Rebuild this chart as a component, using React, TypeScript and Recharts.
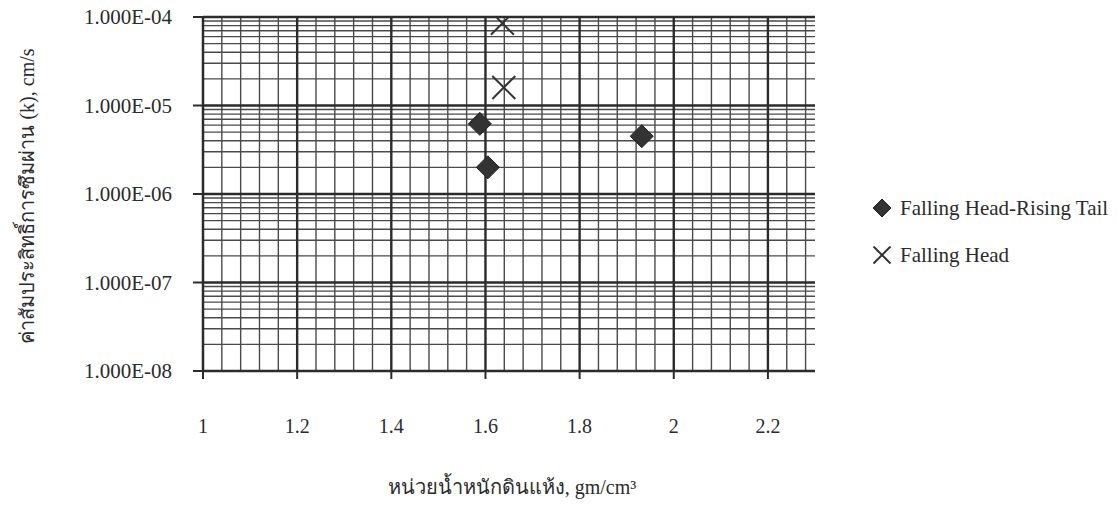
import { Legend, ReferenceLine, Scatter, ScatterChart, XAxis, YAxis } from "recharts";

// Falling Head-Rising Tail
const fhrtDensity = [1.588, 1.605, 1.932];
const fhrtK = [6.2e-6, 2.0e-6, 4.5e-6];
// Falling Head
const fhDensity = [1.636, 1.639];
const fhK = [8.5e-5, 1.6e-5];

const xTicks = [1, 1.2, 1.4, 1.6, 1.8, 2, 2.2];
const yTicks = [1e-8, 1e-7, 1e-6, 1e-5, 1e-4];

const seriesNames = ["Falling Head-Rising Tail", "Falling Head"];
const xTitle = "หน่วยน้ำหนักดินแห้ง, gm/cm³";
const yTitle = "ค่าสัมประสิทธิ์การซึมผ่าน (k), cm/s";

const FONT = "'Liberation Serif', 'Times New Roman', serif";
const INK = "#2b2b2b";
const GRID = "#4a4a4a";

const fhrtData = fhrtDensity.map((x, i) => ({ x, y: fhrtK[i] }));
const fhData = fhDensity.map((x, i) => ({ x, y: fhK[i] }));

// grid values: minor x every 0.04, log minors 2..9 per decade
const xMinor: number[] = [];
for (let i = 1; i < 33; i++) {
  const v = Math.round((1 + i * 0.04) * 100) / 100;
  if (Math.round(v * 100) % 20 !== 0) xMinor.push(v);
}
const xMajor = xTicks.slice(1);
const yMinor: number[] = [];
for (let e = -8; e < -4; e++) {
  for (let m = 2; m <= 9; m++) yMinor.push(m * Math.pow(10, e));
}
const yMajor = yTicks.slice(1);

const fmtK = (v: number) => {
  const e = Math.round(Math.log10(v));
  const m = v / Math.pow(10, e);
  return `${m.toFixed(3)}E${e < 0 ? "-" : "+"}${String(Math.abs(e)).padStart(2, "0")}`;
};

const Diamond = ({ cx, cy, r = 11.5 }: any) => (
  <polygon
    points={`${cx},${cy - r} ${cx + r},${cy} ${cx},${cy + r} ${cx - r},${cy}`}
    fill="#333"
    stroke="#222"
    strokeWidth={1}
  />
);

const Cross = ({ cx, cy, r = 11.5 }: any) => (
  <g stroke="#333" strokeWidth={2}>
    <line x1={cx - r} y1={cy - r} x2={cx + r} y2={cy + r} />
    <line x1={cx - r} y1={cy + r} x2={cx + r} y2={cy - r} />
  </g>
);

const renderLegend = () => (
  <div style={{ fontFamily: FONT, fontSize: 21, color: INK }}>
    {seriesNames.map((name, i) => (
      <div key={name} style={{ display: "flex", alignItems: "center", height: 24, marginBottom: 23 }}>
        <svg width={22} height={22} style={{ marginRight: 7 }}>
          {i === 0 ? <Diamond cx={11} cy={11} r={9} /> : <Cross cx={11} cy={11} r={8.5} />}
        </svg>
        <span>{name}</span>
      </div>
    ))}
  </div>
);

export default function App() {
  return (
    <div style={{ position: "absolute", left: 0, top: 0, width: 1118, height: 507, background: "#fff" }}>
      <ScatterChart width={1118} height={507} margin={{ top: 17, right: 303, bottom: 0, left: 0 }}>
        <XAxis
          type="number"
          dataKey="x"
          domain={[1, 2.3]}
          ticks={xTicks}
          allowDataOverflow
          height={136}
          tickSize={8}
          tickMargin={40}
          axisLine={{ stroke: INK, strokeWidth: 2.5 }}
          tickLine={{ stroke: INK, strokeWidth: 2 }}
          tick={{ fontSize: 20, fill: INK, fontFamily: FONT }}
          label={() => (
            <text x={512} y={494} textAnchor="middle" fontSize={20} fill={INK} fontFamily={FONT}>
              {xTitle}
            </text>
          )}
        />
        <YAxis
          type="number"
          dataKey="y"
          scale="log"
          domain={[1e-8, 1e-4]}
          ticks={yTicks}
          allowDataOverflow
          width={203}
          tickSize={10}
          tickMargin={21}
          tickFormatter={fmtK}
          axisLine={{ stroke: INK, strokeWidth: 2.5 }}
          tickLine={{ stroke: INK, strokeWidth: 2 }}
          tick={{ fontSize: 21, fill: INK, fontFamily: FONT }}
          label={() => (
            <text
              x={34}
              y={196}
              transform="rotate(-90 34 196)"
              textAnchor="middle"
              fontSize={20}
              fill={INK}
              fontFamily={FONT}
            >
              {yTitle}
            </text>
          )}
        />
        {xMinor.map((v) => (
          <ReferenceLine key={`xm${v}`} x={v} stroke={GRID} strokeWidth={1.4} />
        ))}
        {yMinor.map((v) => (
          <ReferenceLine key={`ym${v}`} y={v} stroke={GRID} strokeWidth={1.4} />
        ))}
        {xMajor.map((v) => (
          <ReferenceLine key={`xM${v}`} x={v} stroke={INK} strokeWidth={2.4} />
        ))}
        {yMajor.map((v) => (
          <ReferenceLine key={`yM${v}`} y={v} stroke={INK} strokeWidth={2.4} />
        ))}
        <Scatter name={seriesNames[0]} data={fhrtData} shape={Diamond} isAnimationActive={false} />
        <Scatter name={seriesNames[1]} data={fhData} shape={Cross} isAnimationActive={false} />
        <Legend
          layout="vertical"
          align="center"
          verticalAlign="middle"
          content={renderLegend}
          wrapperStyle={{ left: 871, top: 196, width: 247, height: 90 }}
        />
      </ScatterChart>
    </div>
  );
}
